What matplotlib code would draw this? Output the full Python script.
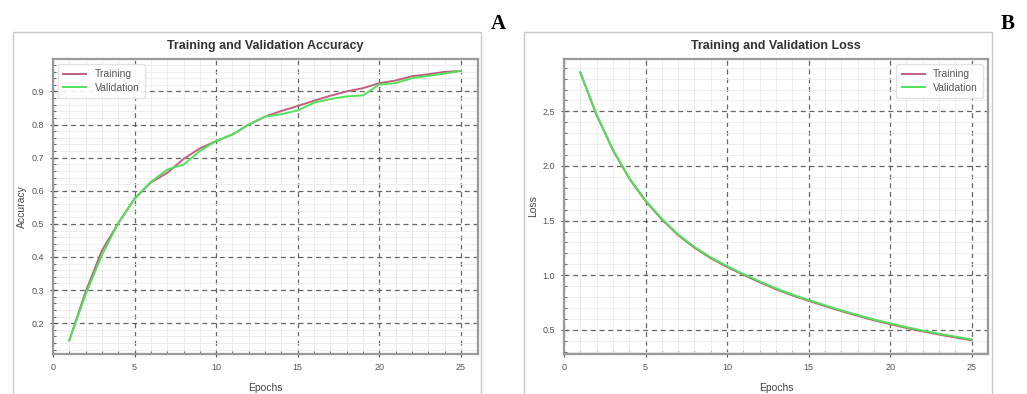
import matplotlib
matplotlib.use("Agg")
import matplotlib.pyplot as plt
from matplotlib.ticker import MultipleLocator
from matplotlib.patches import Rectangle

epochs = list(range(1, 26))
train_acc = [0.148, 0.295, 0.42, 0.502, 0.576, 0.625, 0.654, 0.696, 0.728, 0.75,
             0.77, 0.80, 0.824, 0.841, 0.856, 0.872, 0.887, 0.90, 0.91, 0.925,
             0.933, 0.946, 0.952, 0.959, 0.962]
val_acc = [0.148, 0.287, 0.406, 0.502, 0.576, 0.627, 0.664, 0.679, 0.72, 0.75,
           0.77, 0.80, 0.824, 0.831, 0.843, 0.866, 0.877, 0.885, 0.888, 0.921,
           0.925, 0.94, 0.947, 0.954, 0.962]
train_loss = [2.855, 2.465, 2.145, 1.885, 1.678, 1.51, 1.366, 1.251, 1.155, 1.075,
              1.003, 0.935, 0.871, 0.815, 0.765, 0.717, 0.671, 0.628, 0.587, 0.551,
              0.516, 0.485, 0.456, 0.429, 0.404]
val_loss = [2.86, 2.472, 2.152, 1.892, 1.685, 1.518, 1.374, 1.259, 1.163, 1.083,
            1.011, 0.943, 0.879, 0.823, 0.773, 0.725, 0.679, 0.636, 0.595, 0.559,
            0.524, 0.493, 0.464, 0.437, 0.412]

TRAIN_C = "#c0607e"
VAL_C = "#4fe35a"

plt.rcParams['font.family'] = ['Liberation Sans', 'DejaVu Sans']

fig = plt.figure(figsize=(10.27, 3.94), dpi=100)
W, H = 1027, 394

def fx(px):
    return px / W

def fy(py):
    return 1 - py / H

# outer panel frames
for x0, x1 in [(13, 481), (524, 992)]:
    fig.patches.append(Rectangle((fx(x0), fy(400)), fx(x1) - fx(x0), fy(32) - fy(400),
                                 transform=fig.transFigure, fill=False,
                                 edgecolor="#c8c8c8", linewidth=1.0))

def style(ax, ymajor, yminor):
    ax.xaxis.set_major_locator(MultipleLocator(5))
    ax.xaxis.set_minor_locator(MultipleLocator(1))
    ax.yaxis.set_major_locator(MultipleLocator(ymajor))
    ax.yaxis.set_minor_locator(MultipleLocator(yminor))
    ax.grid(which="major", linestyle=(0, (4, 3)), color="#555555", linewidth=0.9, alpha=0.9)
    ax.grid(which="minor", linestyle="-", color="#ebebeb", linewidth=0.6)
    ax.set_axisbelow(True)
    for s in ax.spines.values():
        s.set_color("#9a9a9a")
        s.set_linewidth(1.6)
    ax.tick_params(which="major", direction="inout", length=5, width=0.8,
                   color="#555555", labelsize=6.5, labelcolor="#555555", pad=4)
    ax.tick_params(which="minor", direction="in", length=2.5, width=0.6, color="#555555")
    ax.set_xlabel("Epochs", fontsize=7.5, color="#444444", labelpad=8)

axA = fig.add_axes([fx(53), fy(354), fx(478) - fx(53), fy(59) - fy(354)])
axA.plot(epochs, train_acc, color=TRAIN_C, linewidth=1.4, label="Training")
axA.plot(epochs, val_acc, color=VAL_C, linewidth=1.4, label="Validation")
axA.set_xlim(0, 26.05)
axA.set_ylim(0.107, 0.998)
style(axA, 0.1, 0.02)
axA.set_ylabel("Accuracy", fontsize=7.5, color="#444444", labelpad=3)
axA.set_title("Training and Validation Accuracy", fontsize=9, fontweight="bold",
              color="#333333", pad=7)
axA.legend(loc="upper left", fontsize=7.5, frameon=True, framealpha=0.9,
           edgecolor="#e0e0e0", labelcolor="#555555", handlelength=2.2,
           borderpad=0.5, labelspacing=0.3)

axB = fig.add_axes([fx(564), fy(354), fx(988) - fx(564), fy(59) - fy(354)])
axB.plot(epochs, train_loss, color=TRAIN_C, linewidth=1.4, label="Training")
axB.plot(epochs, val_loss, color=VAL_C, linewidth=1.4, label="Validation")
axB.set_xlim(0, 26.0)
axB.set_ylim(0.278, 2.98)
style(axB, 0.5, 0.1)
axB.set_ylabel("Loss", fontsize=7.5, color="#444444", labelpad=3)
axB.set_title("Training and Validation Loss", fontsize=9, fontweight="bold",
              color="#333333", pad=7)
axB.legend(loc="upper right", fontsize=7.5, frameon=True, framealpha=0.9,
           edgecolor="#e0e0e0", labelcolor="#555555", handlelength=2.2,
           borderpad=0.5, labelspacing=0.3)

fig.text(fx(498), fy(24), "A", fontsize=15, fontweight="bold", family="Liberation Serif",
         ha="center", va="center", color="black")
fig.text(fx(1008), fy(24), "B", fontsize=15, fontweight="bold", family="Liberation Serif",
         ha="center", va="center", color="black")

fig.savefig("out.png", dpi=100, facecolor="white")
